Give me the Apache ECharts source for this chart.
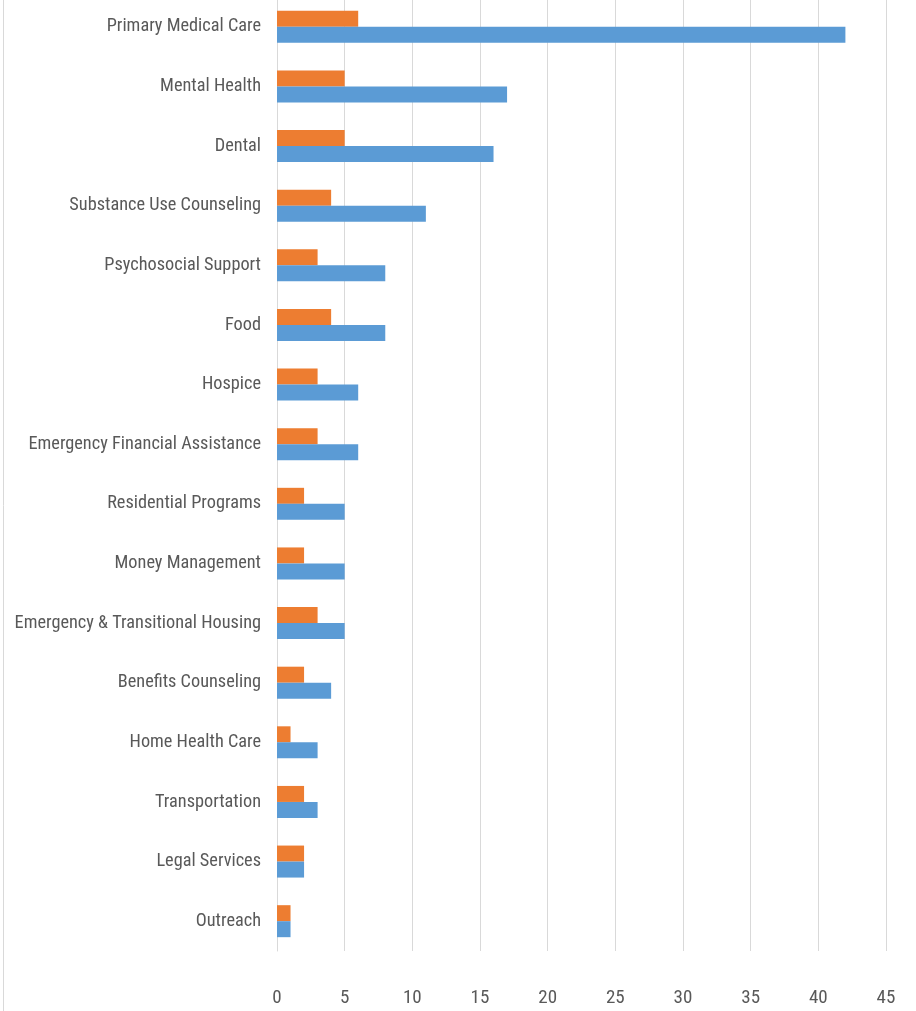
<!DOCTYPE html>
<html>
<head>
<meta charset="utf-8">
<script src="https://cdn.jsdelivr.net/npm/echarts@6/dist/echarts.min.js"></script>
<style>
  html, body { margin: 0; padding: 0; background: #fff; }
  #chart { width: 916px; height: 1011px; }
</style>
</head>
<body>
<div id="chart"></div>
<script>
const categories = [
  'Primary Medical Care', 'Mental Health', 'Dental', 'Substance Use Counseling',
  'Psychosocial Support', 'Food', 'Hospice', 'Emergency Financial Assistance',
  'Residential Programs', 'Money Management', 'Emergency & Transitional Housing',
  'Benefits Counseling', 'Home Health Care', 'Transportation', 'Legal Services', 'Outreach'
];
const blueValues = [42, 17, 16, 11, 8, 8, 6, 6, 5, 5, 5, 4, 3, 3, 2, 1];
const orangeValues = [6, 5, 5, 4, 3, 4, 3, 3, 2, 2, 3, 2, 1, 2, 2, 1];

const font = '"Roboto Condensed", sans-serif';

const chart = echarts.init(document.getElementById('chart'));
chart.setOption({
  animation: false,
  grid: { left: 277, right: 30, top: -3, bottom: 60, containLabel: false, outerBoundsMode: 'none' },
  graphic: [{
    type: 'line',
    shape: { x1: 3.5, y1: 0, x2: 3.5, y2: 1011 },
    style: { stroke: '#d9d9d9', lineWidth: 1 }
  }],
  xAxis: {
    type: 'value',
    min: 0, max: 45, interval: 5,
    axisLine: { show: false },
    axisTick: { show: false },
    splitLine: { lineStyle: { color: '#d9d9d9', width: 1 } },
    axisLabel: { color: '#595959', fontSize: 19, fontFamily: font, margin: 38 }
  },
  yAxis: {
    type: 'category',
    inverse: true,
    data: categories,
    axisLine: { show: true, lineStyle: { color: '#d9d9d9' } },
    axisTick: { show: false },
    axisLabel: { color: '#595959', fontSize: 18.3, fontFamily: font, margin: 16 }
  },
  series: [
    {
      name: 'Orange',
      type: 'bar',
      data: orangeValues,
      barWidth: 16,
      barGap: '0%',
      itemStyle: { color: '#ED7D31' }
    },
    {
      name: 'Blue',
      type: 'bar',
      data: blueValues,
      barWidth: 16,
      barGap: '0%',
      itemStyle: { color: '#5B9BD5' }
    }
  ]
});
</script>
</body>
</html>
